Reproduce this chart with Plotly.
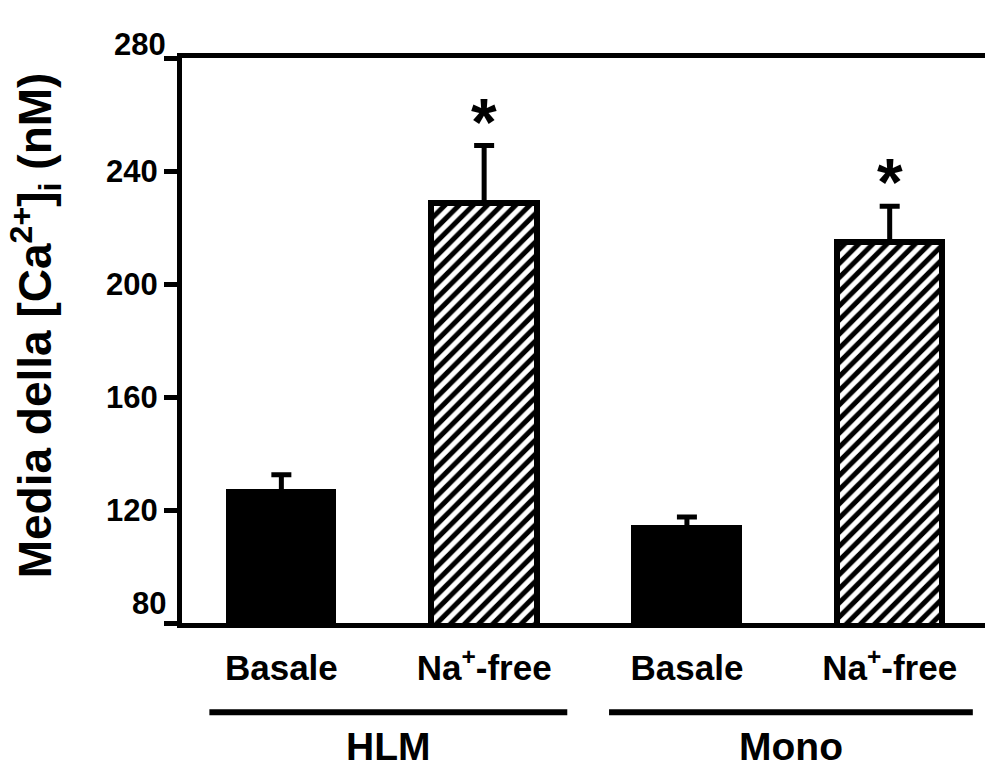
import plotly.graph_objects as go

# ---- data ----
categories = ["HLM Basale", "HLM Na-free", "Mono Basale", "Mono Na-free"]
cat_labels = ["Basale", "Na<sup>+</sup>-free", "Basale", "Na<sup>+</sup>-free"]
means = [126.5, 228.5, 113.5, 215.0]
sem_up = [6.0, 20.5, 4.0, 12.5]
groups = ["HLM", "Mono"]
sig_marks = ["", "*", "", "*"]
y_ticks = [80, 120, 160, 200, 240, 280]
y_title = "Media della [Ca<sup>2+</sup>]<sub>i</sub> (nM)"

FONT = "Liberation Sans, Arial, Helvetica, sans-serif"
xpos = list(range(len(categories)))

fig = go.Figure()

solid_x = [x for x, c in zip(xpos, categories) if "Basale" in c]
hatch_x = [x for x, c in zip(xpos, categories) if "Na-free" in c]

fig.add_trace(go.Bar(
    x=solid_x, y=[means[i] for i in solid_x], base=0,
    width=0.52,
    marker=dict(color="black", line=dict(color="black", width=5)),
    error_y=dict(type="data", symmetric=False, array=[sem_up[i] for i in solid_x],
                 arrayminus=[0] * len(solid_x), color="black", thickness=5, width=10),
    showlegend=False,
))
fig.add_trace(go.Bar(
    x=hatch_x, y=[means[i] for i in hatch_x], base=0,
    width=0.52,
    marker=dict(color="white", line=dict(color="black", width=6),
                pattern=dict(shape="/", fgcolor="black", bgcolor="white", size=10,
                             solidity=0.5, fgopacity=1)),
    error_y=dict(type="data", symmetric=False, array=[sem_up[i] for i in hatch_x],
                 arrayminus=[0] * len(hatch_x), color="black", thickness=5, width=10),
    showlegend=False,
))

# significance asterisks
for x, m, e, s in zip(xpos, means, sem_up, sig_marks):
    if s:
        fig.add_annotation(x=x, y=m + e, yshift=24, text=s, showarrow=False,
                           font=dict(family=FONT, size=66, color="black", weight="bold"),
                           xref="x", yref="y", yanchor="middle")

# outer tick labels (280 and 80 sit slightly above their ticks)
fig.add_annotation(x=0, xref="paper", xanchor="right", xshift=-14, y=280, yref="y",
                   yshift=14, text="280", showarrow=False,
                   font=dict(family=FONT, size=31, color="black", weight="bold"))
fig.add_annotation(x=0, xref="paper", xanchor="right", xshift=-14, y=80, yref="y",
                   yshift=20, text="80", showarrow=False,
                   font=dict(family=FONT, size=31, color="black", weight="bold"))

# y-axis title
fig.add_annotation(x=-0.183, xref="paper", y=0.527, yref="paper", text=y_title,
                   textangle=-90, showarrow=False, xanchor="center", yanchor="middle",
                   font=dict(family=FONT, size=46, color="black", weight="bold"))

# group underlines and labels
group_spans = [(-0.355, 1.41), (1.616, 3.41)]
for (g, (x0, x1)) in zip(groups, group_spans):
    fig.add_shape(type="line", xref="x", yref="paper", x0=x0, x1=x1, y0=-0.158, y1=-0.158,
                  line=dict(color="black", width=6))
    fig.add_annotation(x=(x0 + x1) / 2, xref="x", y=-0.219, yref="paper", text=g,
                       showarrow=False, font=dict(family=FONT, size=39, color="black", weight="bold"),
                       yanchor="middle")

fig.update_layout(
    width=985, height=772,
    margin=dict(l=182, r=0, t=58, b=149),
    plot_bgcolor="white", paper_bgcolor="white",
    bargap=0,
    font=dict(family=FONT, color="black"),
    xaxis=dict(
        range=[-0.49, 3.47],
        tickvals=xpos,
        ticktext=cat_labels,
        tickfont=dict(family=FONT, size=35, color="black", weight="bold"),
        ticks="outside", ticklen=10, tickcolor="rgba(0,0,0,0)",
        showline=True, linecolor="black", linewidth=5, mirror=True,
        showgrid=False, zeroline=False,
    ),
    yaxis=dict(
        range=[80, 280],
        tickvals=y_ticks,
        ticktext=["" if v in (80, 280) else str(v) for v in y_ticks],
        tickfont=dict(family=FONT, size=31, color="black", weight="bold"),
        ticks="outside", ticklen=13, tickwidth=5, tickcolor="black",
        showline=True, linecolor="black", linewidth=5, mirror=False,
        showgrid=False, zeroline=False,
    ),
)

fig.write_html("out.html")
